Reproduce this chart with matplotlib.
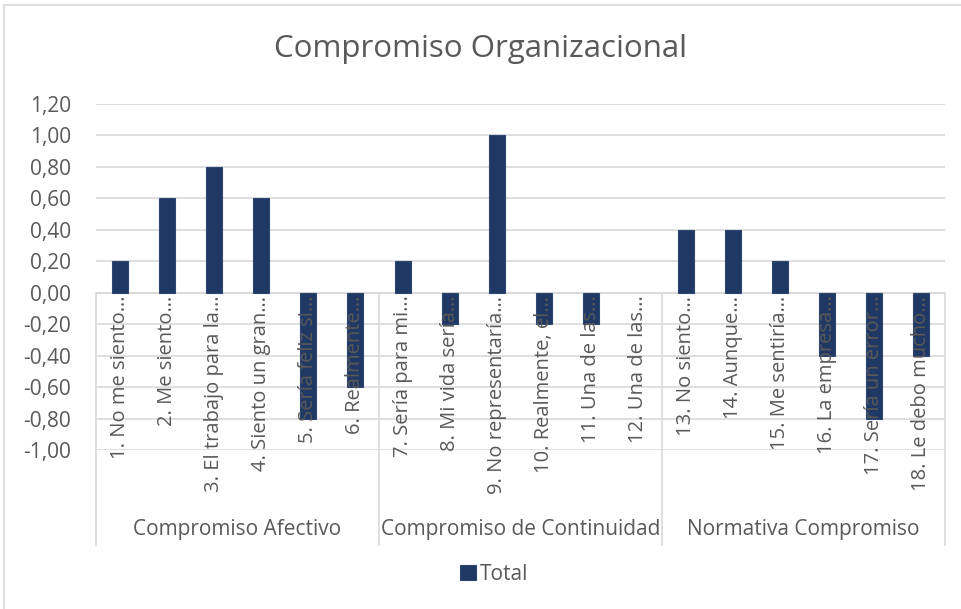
"""
Compromiso Organizacional: barras por ítem, agrupadas por dimensión.
Salida: out.png
"""
import matplotlib
matplotlib.use('Agg')
import matplotlib.pyplot as plt
from matplotlib.patches import Rectangle
from matplotlib.ticker import FuncFormatter

plt.rcParams['font.family'] = ['Open Sans', 'DejaVu Sans']

# ── Datos ─────────────────────────────────────────────────────────────────────
items = [
    '1. No me siento…', '2. Me siento…', '3. El trabajo para la…',
    '4. Siento un gran…', '5. Sería feliz si…', '6. Realmente…',
    '7. Sería para mi…', '8. Mi vida sería…', '9. No representaría…',
    '10. Realmente, el…', '11. Una de las…', '12. Una de las…',
    '13. No siento…', '14. Aunque…', '15. Me sentiría…',
    '16. La empresa…', '17. Sería un error…', '18. Le debo mucho…',
]
total = [0.2, 0.6, 0.8, 0.6, -0.8, -0.6,
         0.2, -0.2, 1.0, -0.2, -0.2, 0.0,
         0.4, 0.4, 0.2, -0.4, -0.8, -0.4]
grupos = ['Compromiso Afectivo', 'Compromiso de Continuidad', 'Normativa Compromiso']
tam_grupo = [6, 6, 6]
y_ticks = [-1.0, -0.8, -0.6, -0.4, -0.2, 0.0, 0.2, 0.4, 0.6, 0.8, 1.0, 1.2]

# ── Estilo ────────────────────────────────────────────────────────────────────
azul  = '#203864'
gris  = '#595959'
linea = '#d9d9d9'
W, H = 961, 609

fig = plt.figure(figsize=(W / 100, H / 100), dpi=100)
ax = fig.add_axes([96 / W, 1 - 450 / H, (945 - 96) / W, (450 - 104) / H])

x = list(range(len(items)))
bordes = ['#2e4672' if v != 0 else 'none' for v in total]
ax.bar(x, total, width=0.34, color=azul, edgecolor=bordes, linewidth=0.8,
       zorder=2, label='Total')

ax.set_xlim(-0.5, len(items) - 0.5)
ax.set_ylim(-1.0, 1.2)
ax.set_yticks(y_ticks)
ax.yaxis.set_major_formatter(FuncFormatter(lambda v, p: f'{v:.2f}'.replace('.', ',')))
ax.tick_params(axis='y', length=0, pad=18, labelsize=15, labelcolor=gris)
ax.set_xticks([])
for s in ax.spines.values():
    s.set_visible(False)
ax.grid(axis='y', color=linea, linewidth=1.2, zorder=0)
ax.axhline(0, color=linea, linewidth=1.2, zorder=1)

# etiquetas de categoría (sobre las barras, como en Excel)
for xi, lab in zip(x, items):
    ax.annotate(lab, (xi, 0), xytext=(0, -2), textcoords='offset points',
                rotation=90, ha='center', va='top', fontsize=14.5,
                color=gris, zorder=3, annotation_clip=False)

# separadores y nombres de grupo
y_fondo = -1.0 - 95 * 2.2 / 346
y_grupo = -1.0 - 80 * 2.2 / 346
inicio = -0.5
ax.plot([inicio, inicio], [0, y_fondo], color=linea, lw=1.2, clip_on=False)
for g, n in zip(grupos, tam_grupo):
    fin = inicio + n
    ax.plot([fin, fin], [0, y_fondo], color=linea, lw=1.2, clip_on=False)
    ax.text((inicio + fin) / 2, y_grupo, g, ha='center', va='center',
            fontsize=15, color=gris)
    inicio = fin

fig.text(0.5, 1 - 49 / H, 'Compromiso Organizacional', ha='center', va='center',
         fontsize=22.5, color=gris)

leg = fig.legend(loc='center', bbox_to_anchor=(494 / W, 1 - 574 / H), frameon=False,
                 fontsize=15, handlelength=0.75, handleheight=0.75, handletextpad=0.2)
for t in leg.get_texts():
    t.set_color(gris)

# marco del gráfico
fig.patches.append(Rectangle((4 / W, -0.05), 1.1, 1.05 - 5 / H, transform=fig.transFigure,
                             fill=False, edgecolor=linea, linewidth=1.2))

fig.savefig('out.png', dpi=100)
